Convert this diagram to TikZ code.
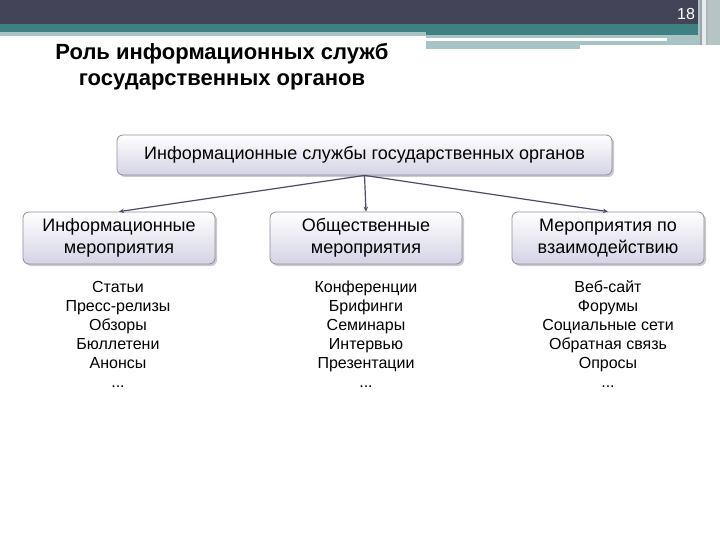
\documentclass[tikz,border=0pt]{standalone}
\usepackage{fontspec}
\setmainfont{Liberation Sans}
\usetikzlibrary{shadows,arrows.meta}
\definecolor{hdark}{HTML}{434458}
\definecolor{hteal}{HTML}{3F8082}
\definecolor{hlight}{HTML}{A7C3C6}
\definecolor{boxbot}{HTML}{D3D3E6}
\definecolor{boxline}{HTML}{8E8EA0}
\definecolor{arr}{HTML}{4B4B6B}
\tikzset{
  box/.style={draw=boxline, line width=0.8pt, rounded corners=6pt, top color=white, bottom color=boxbot,
    drop shadow={shadow xshift=2pt, shadow yshift=-2pt, opacity=0.35, fill=black!60},
    align=center, font=\fontsize{18}{22}\selectfont, inner sep=0pt},
  lst/.style={align=center, font=\fontsize{16}{19}\selectfont, anchor=north, inner sep=0pt},
  conn/.style={draw=arr, line width=1.2pt, -{Stealth[length=5pt,width=4.5pt]}}
}
\begin{document}
\begin{tikzpicture}[x=1pt,y=-1pt]
\useasboundingbox (0,0) rectangle (720,540);
% header
\fill[hdark] (0,0) rectangle (698,24);
\fill[hteal] (0,24) rectangle (426,32);
\fill[hlight] (0,32) rectangle (426,36);
\fill[hteal] (426,24) rectangle (698,35.5);
\fill[hlight] (426,35.5) rectangle (698,49);
\fill[white] (426,38.3) rectangle (667,41.5);
\fill[white] (580,45) rectangle (707,49);
\fill[hlight!70] (698,0) rectangle (720,45);
\fill[hlight] (698,0) rectangle (700,45);
\fill[hdark!50] (700,0) rectangle (702,45);
\fill[white!70!hlight] (702,0) rectangle (706,45);
\fill[hdark!40] (706,0) rectangle (708,45);
\fill[black!20!hlight!60] (708,0) rectangle (720,45);
\node[text=white, font=\fontsize{16}{16}\selectfont] (pg) at (686,14) {18};
% title
\node[align=center, font=\bfseries\fontsize{22}{26}\selectfont] (title) at (222,67) {Роль информационных служб\\государственных органов};
% boxes
\node[box, minimum width=495pt, minimum height=40pt] (top) at (364.5,155) {Информационные службы государственных органов};
\node[box, minimum width=192pt, minimum height=52pt] (b1) at (119,238) {Информационные\\мероприятия};
\node[box, minimum width=192pt, minimum height=52pt] (b2) at (366,238) {Общественные\\мероприятия};
\node[box, minimum width=192pt, minimum height=52pt] (b3) at (608,238) {Мероприятия по\\взаимодействию};
\draw[conn] (top.south) -- (b1.north);
\draw[conn] (top.south) -- (b2.north);
\draw[conn] (top.south) -- (b3.north);
% lists
\node[lst] (l1) at (118,279) {\strut Статьи\\Пресс-релизы\\Обзоры\\Бюллетени\\Анонсы\\...};
\node[lst] (l2) at (366,279) {\strut Конференции\\Брифинги\\Семинары\\Интервью\\Презентации\\...};
\node[lst] (l3) at (608,279) {\strut Веб-сайт\\Форумы\\Социальные сети\\Обратная связь\\Опросы\\...};
\end{tikzpicture}
\end{document}
